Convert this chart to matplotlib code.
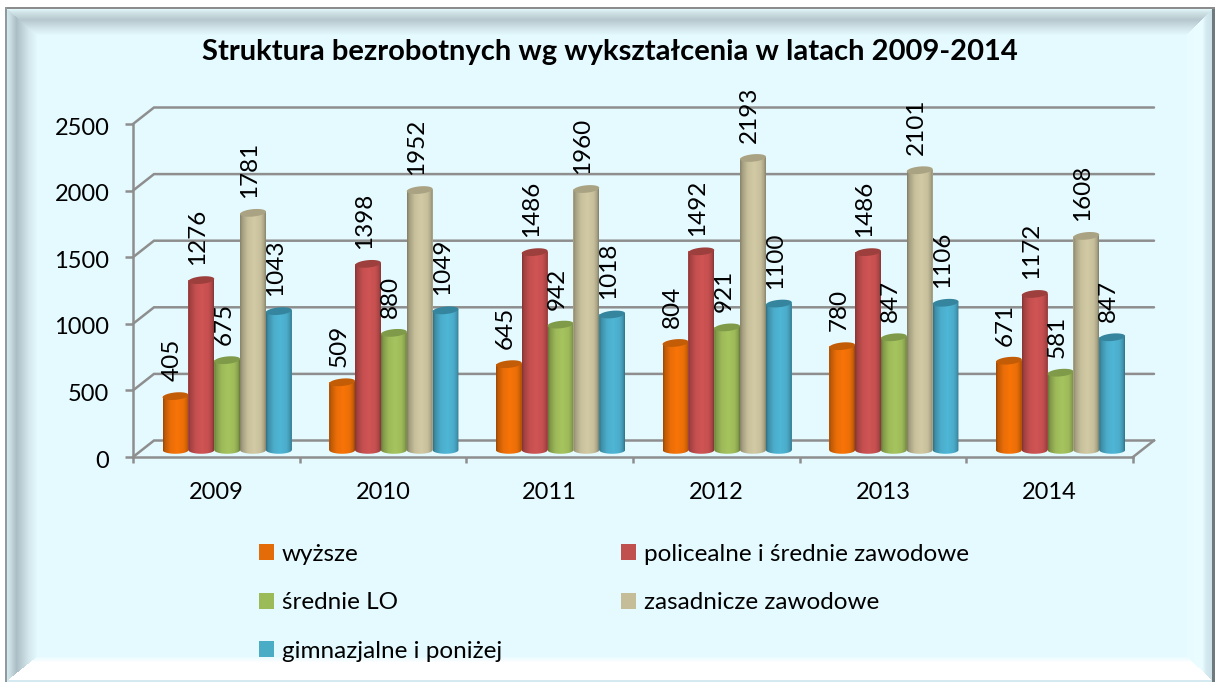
import numpy as np
import matplotlib
matplotlib.use("Agg")
import matplotlib.pyplot as plt
from matplotlib.patches import Patch, Polygon
from matplotlib.transforms import ScaledTranslation

plt.rcParams['font.family'] = ['Lato', 'DejaVu Sans']

years = ['2009', '2010', '2011', '2012', '2013', '2014']
wyzsze = [405, 509, 645, 804, 780, 671]
policealne = [1276, 1398, 1486, 1492, 1486, 1172]
srednie_lo = [675, 880, 942, 921, 847, 581]
zasadnicze = [1781, 1952, 1960, 2193, 2101, 1608]
gimnazjalne = [1043, 1049, 1018, 1100, 1106, 847]

names = ['wyższe', 'policealne i średnie zawodowe', 'średnie LO',
         'zasadnicze zawodowe', 'gimnazjalne i poniżej']
series = [wyzsze, policealne, srednie_lo, zasadnicze, gimnazjalne]
legend_cols = ['#E36C09', '#C0504D', '#9BBB59', '#C4BD97', '#4BACC6']
bright = ['#F87408', '#D05454', '#A6C45E', '#D2CAA4', '#4FB6D6']
top_cols = ['#C25C06', '#9C3F3D', '#7F9A48', '#A9A283', '#35859F']

W, H = 1215, 682


def hex_rgb(c):
    return np.array(matplotlib.colors.to_rgb(c))


# picture frame, done pixel by pixel
def frame():
    yy, xx = np.mgrid[0:H, 0:W].astype(float)
    img = np.ones((H, W, 3))
    inner = hex_rgb('#E5FAFF')
    img[:] = inner
    L, T, R, B = 30.0, 26.0, 26.0, 24.0
    dl, dt = (xx - 7) / L, (yy - 9) / T
    dr, db = (1212 - xx) / R, (680 - yy) / B
    m = np.minimum(np.minimum(dl, dt), np.minimum(dr, db))
    ramps = [
        (dl, [0, .12, .3, .7, 1], ['#D3E8EC', '#C6DADF', '#ABBEC5', '#D2E6EB', '#E5FAFF']),
        (dt, [0, .15, .4, .7, 1], ['#E0F5F8', '#CCDFE3', '#B6C8CD', '#D0E3E8', '#E5FAFF']),
        (dr, [0, .25, .4, 1], ['#CBE0E7', '#D6EBF1', '#EBFDFF', '#E8FBFF']),
        (db, [0, .75, 1], ['#FFFFFF', '#FFFFFF', '#E8FBFF']),
    ]
    for d, pos, cols in ramps:
        mask = (d == m) & (m < 1)
        cols = np.array([hex_rgb(c) for c in cols])
        for k in range(3):
            img[..., k][mask] = np.interp(d[mask], pos, cols[:, k])
    # outer white margin and dark border
    out = (xx < 5) | (xx > 1214) | (yy < 7)
    img[out] = 1.0
    img[(yy >= 7) & (yy < 9) & (xx >= 5) & (xx <= 1214)] = hex_rgb('#8C8C8C')
    img[(xx >= 5) & (xx < 7) & (yy >= 7)] = hex_rgb('#8F9A9E')
    img[(xx >= 1212) & (xx <= 1214) & (yy >= 9)] = hex_rgb('#6E7A7E')
    img[(yy >= 680) & (xx >= 7) & (xx < 1212)] = hex_rgb('#D5EAF0')
    return img


fig = plt.figure(figsize=(W / 100, H / 100), dpi=100)
fig.figimage(frame(), 0, 0, origin='upper', zorder=-5)

ax = fig.add_axes([133 / W, (H - 457) / H, 1000 / W, 333 / H])
ax.patch.set_alpha(0)
ax.set_xlim(0, 6)
ax.set_ylim(0, 2500)

grey = '#8E8E8E'
depth_x = 21 / 1000 * 6
depth_y = 16.5 / 333 * 2500

# walls
yticks = [0, 500, 1000, 1500, 2000, 2500]
for v in yticks:
    ax.plot([0, depth_x, 6 + depth_x], [v, v + depth_y, v + depth_y], color=grey, lw=1.8,
            clip_on=False, zorder=1, solid_capstyle='round', solid_joinstyle='miter')
ax.plot([6, 6 + depth_x], [0, depth_y], color=grey, lw=1.8, clip_on=False, zorder=1)

for side in ['top', 'right']:
    ax.spines[side].set_visible(False)
for side in ['left', 'bottom']:
    ax.spines[side].set_color(grey)
    ax.spines[side].set_linewidth(1.8)
ax.set_yticks(yticks)
ax.set_xticks(range(7))
ax.set_xticklabels([])
ax.set_xticks(np.arange(6) + 0.5, labels=years, minor=True)
ax.tick_params(axis='y', length=6, width=1.8, color=grey, labelsize=17, pad=11)
ax.tick_params(axis='x', which='major', length=4.5, width=1.8, color=grey)
ax.tick_params(axis='x', which='minor', length=0, labelsize=17, pad=18)
# y labels sit a little lower than the ticks
nudge = ScaledTranslation(0, -1.5 / 72, fig.dpi_scale_trans)
for lab in ax.get_yticklabels():
    lab.set_transform(lab.get_transform() + nudge)

# cylinders
bar_w = 0.155
base = 52
x_shift = 0.065
a = bar_w / 2
b = 3.7 / 333 * 2500
tilt = 1.2 / 333 * 2500
t = np.linspace(0, 2 * np.pi, 60)
stops = [0, .08, .3, .55, .8, .94, 1]
gains = [.62, .78, .95, 1, .95, .8, .62]
ramp_x = np.linspace(0, 1, 64)

for s, (vals, col, tcol) in enumerate(zip(series, bright, top_cols)):
    rgb = hex_rgb(col)
    grad = np.array([[rgb * g for g in np.interp(ramp_x, stops, gains)]])
    for i, v in enumerate(vals):
        cx = i + 0.5 + x_shift + (s - 2) * bar_w
        y1 = base + v
        z = 3 + s + i * 10
        ax.bar(cx, v, bar_w, bottom=base, color=col, zorder=z, clip_on=False)
        # body outline: bottom half ellipse then up to the top edge
        tb = np.linspace(np.pi, 2 * np.pi, 24)
        low = np.c_[cx + a * np.cos(tb), base + b * np.sin(tb)]
        up = np.array([[cx + a, y1 + tilt], [cx - a, y1 - tilt]])
        body = Polygon(np.r_[low, up], closed=True, transform=ax.transData)
        im = ax.imshow(grad, extent=[cx - a, cx + a, base - b, y1 + b], aspect='auto',
                       interpolation='bilinear', zorder=z + 0.1, clip_on=True)
        im.set_clip_path(body)
        top = np.c_[cx + a * np.cos(t), y1 + b * np.sin(t) + tilt * np.cos(t)]
        ax.add_patch(Polygon(top, closed=True, facecolor=tcol, edgecolor='none',
                             zorder=z + 0.2, clip_on=False))
        ax.text(cx - 0.02, y1 + 113, str(v), rotation=90, ha='center', va='bottom',
                fontsize=17.5, color='black', zorder=200, clip_on=False)

ax.set_xlim(0, 6)
ax.set_ylim(0, 2500)

fig.text(610 / W, 1 - 52 / H, 'Struktura bezrobotnych wg wykształcenia w latach 2009-2014',
         ha='center', va='center', fontsize=21, fontweight='bold', color='black')

handles = [Patch(facecolor=c, edgecolor='none') for c in legend_cols]
order = [0, 2, 4, 1, 3]
fig.legend([handles[k] for k in order], [names[k] for k in order], ncol=2, frameon=False,
           loc='upper left', bbox_to_anchor=(249 / W, 1 - 534 / H), borderaxespad=0,
           fontsize=17.5, handlelength=0.62, handleheight=0.62, handletextpad=0.33,
           labelspacing=1.13, columnspacing=4.9, labelcolor='black')

fig.savefig('out.png', dpi=100)
